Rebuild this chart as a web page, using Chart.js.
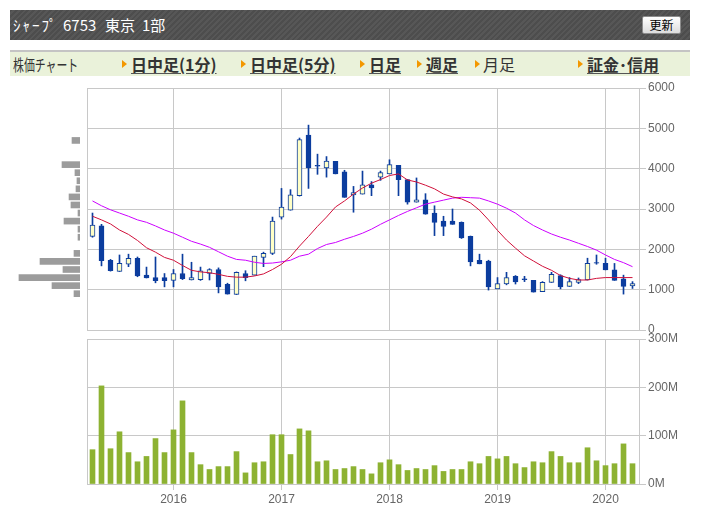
<!DOCTYPE html>
<html lang="ja">
<head>
<meta charset="utf-8">
<title>シャープ 6753 月足</title>
<script src="https://cdn.jsdelivr.net/npm/chart.js@4.4.1/dist/chart.umd.min.js"></script>
<style>
    body { margin: 0; width: 703px; height: 527px; position: relative; overflow: hidden; background: #fff; font-family: "Noto Sans CJK JP", sans-serif; }
    canvas { position: absolute; }
    .head { position: absolute; left: 10px; top: 10px; width: 680px; height: 30px;
        background: repeating-linear-gradient(135deg, #4d4d4d 0px, #4d4d4d 2px, #575757 2px, #575757 4px); }
    .head span { position: absolute; top: 0; line-height: 30px; color: #fff; font-size: 15px; white-space: nowrap; }
    .head .btn { position: absolute; left: 632px; top: 6px; width: 37px; height: 16px; border: 1px solid #8c8c8c; border-radius: 2px;
        background: linear-gradient(#ffffff, #dcdcdc); font-size: 12px; line-height: 16px; text-align: center; color: #000; }
    .nav { position: absolute; left: 10px; top: 50px; width: 680px; height: 24px; border-top: 2px solid #c4c4c4; background: #eaf2da; }
    .nav span { position: absolute; top: 0; line-height: 24px; font-size: 16px; color: #333; white-space: nowrap; }
    .nav .label { transform: scaleX(0.68); transform-origin: left center; }
    .nav .link { font-weight: bold; text-decoration: underline; text-decoration-color: #555; text-underline-offset: 2px; }
    .nav i { position: absolute; top: 8px; width: 0; height: 0; border-left: 5px solid #f39800; border-top: 4px solid transparent; border-bottom: 4px solid transparent; }
</style>
</head>
<body>
<div class="head">
    <span style="left:3px;letter-spacing:2px">ｼｬｰﾌﾟ</span>
    <span style="left:53px">6753</span>
    <span style="left:95px">東京</span>
    <span style="left:132px">1部</span>
    <div class="btn">更新</div>
</div>
<div class="nav">
    <span class="label" style="left:3px">株価チャート</span>
    <i style="left:112px"></i><span class="link" style="left:121px">日中足(1分)</span>
    <i style="left:231px"></i><span class="link" style="left:240px">日中足(5分)</span>
    <i style="left:350px"></i><span class="link" style="left:359px">日足</span>
    <i style="left:407px"></i><span class="link" style="left:416px">週足</span>
    <i style="left:465px"></i><span style="left:473px">月足</span>
    <i style="left:568px"></i><span class="link" style="left:577px">証金･信用</span>
</div>

<canvas id="profileChart" width="87" height="262" style="left:0;top:80px"></canvas>
<canvas id="priceChart" width="623" height="262" style="left:80px;top:80px"></canvas>
<canvas id="volumeChart" width="623" height="180" style="left:80px;top:328px"></canvas>

<script>
// monthly bars, 2015-04 .. 2020-04
var months = ['2015-04','2015-05','2015-06','2015-07','2015-08','2015-09','2015-10','2015-11','2015-12',
    '2016-01','2016-02','2016-03','2016-04','2016-05','2016-06','2016-07','2016-08','2016-09','2016-10','2016-11','2016-12',
    '2017-01','2017-02','2017-03','2017-04','2017-05','2017-06','2017-07','2017-08','2017-09','2017-10','2017-11','2017-12',
    '2018-01','2018-02','2018-03','2018-04','2018-05','2018-06','2018-07','2018-08','2018-09','2018-10','2018-11','2018-12',
    '2019-01','2019-02','2019-03','2019-04','2019-05','2019-06','2019-07','2019-08','2019-09','2019-10','2019-11','2019-12',
    '2020-01','2020-02','2020-03','2020-04'];

var opens = [2320,2580,1730,1450,1630,1780,1360,1300,1300,1230,1400,1240,1250,1400,1500,1130,880,1400,1360,1800,1900,
    2800,2970,3330,4830,4080,4020,4180,3920,3350,3370,3600,3790,3870,4080,3730,3170,3230,2900,2700,2700,
    2670,2320,1730,1710,1020,1140,1330,1270,1230,950,1180,1350,1080,1180,1240,1670,1650,1490,1270,1090];
var highs = [2900,2620,1750,1860,1880,1810,1560,1810,1400,1500,1880,1680,1560,1520,1540,1160,1440,1470,1830,1930,2800,
    3510,3480,4760,5080,4360,4300,4180,3960,3560,3940,3680,3940,4220,4080,3730,3770,3380,3080,2820,3000,
    2680,2330,1880,1730,1300,1430,1350,1330,1230,1200,1430,1370,1300,1290,1780,1860,1780,1650,1360,1200];
var lows = [2300,1590,1460,1450,1570,1320,1290,1170,1070,1070,1250,1240,1230,1240,920,890,880,1220,1360,1570,1870,
    2750,2970,3320,3510,3860,3790,3870,3290,2920,3370,3330,3710,3870,3330,3120,3170,2870,2340,2340,2620,
    2270,1590,1640,990,1020,1120,1140,1200,940,950,1180,1020,1080,1150,1240,1630,1490,1230,890,1030];
var closes = [2600,1720,1470,1650,1780,1340,1290,1220,1220,1400,1270,1300,1470,1500,1070,890,1430,1300,1830,1900,2700,
    3050,3350,4720,4020,4060,4190,3870,3290,3410,3600,3520,3900,4100,3730,3170,3230,2870,2670,2570,2620,
    2280,1690,1640,1070,1150,1300,1190,1250,940,1180,1380,1070,1200,1250,1650,1660,1490,1230,1080,1150];

// moving averages as drawn (red = short, magenta = long)
var maShort = [2820,2730,2630,2480,2370,2220,2040,1930,1800,1730,1600,1480,1440,1420,1380,1330,1310,1310,1340,1390,1500,
    1630,1820,2080,2320,2570,2800,3050,3200,3370,3520,3640,3730,3830,3870,3720,3670,3590,3500,3370,3300,
    3250,3150,2970,2730,2470,2230,2030,1840,1710,1580,1480,1350,1280,1240,1240,1280,1300,1300,1300,1300];
var maLong = [3200,3080,2980,2900,2820,2730,2670,2580,2480,2400,2300,2200,2130,2050,1940,1830,1750,1730,1680,1650,1660,
    1690,1730,1830,1880,2020,2120,2170,2250,2320,2400,2500,2620,2730,2840,2940,3030,3120,3170,3220,3270,
    3290,3280,3270,3200,3120,3020,2900,2730,2590,2480,2380,2300,2230,2150,2070,1980,1860,1750,1670,1570];

// volume, millions of shares
var volumes = [71,203,73,108,65,46,57,94,65,112,172,65,40,30,36,36,67,23,44,46,102,
    102,61,114,110,46,48,30,32,36,30,21,44,50,40,28,32,30,38,26,30,
    30,46,42,57,52,57,42,34,46,44,67,57,44,44,75,48,38,42,83,42];

// volume by price (left side), millions of shares per 200 yen band
var profilePrices = [900,1100,1300,1500,1700,1900,2300,2500,2700,2900,3100,3300,3500,3700,3900,4100,4700];
var profileVolumes = [93,434,946,264,620,93,31,31,248,31,140,170,62,47,78,279,124];

var yearLabels = ['2016','2017','2018','2019','2020'];
var yearTickIndex = [9,21,33,45,57];

var gridColor = '#c8c8c8';
var tickColor = '#666666';
var candleBlue = '#0c3d9e';
var candleYellow = '#ffffc6';
var tickFont = { family: 'Liberation Sans', size: 12 };

function xyPoints(values) {
    var out = [];
    for (var i = 0; i < values.length; i++) out.push({ x: i, y: values[i] });
    return out;
}

function rangePoints(a, b) {
    var out = [];
    for (var i = 0; i < a.length; i++) out.push({ x: i, y: [a[i], b[i]] });
    return out;
}

function yearAxis(showLabels) {
    return {
        type: 'linear', min: -0.611, max: 60.722, offset: false,
        afterBuildTicks: function (scale) {
            scale.ticks = yearTickIndex.map(function (v) { return { value: v }; });
        },
        afterFit: function (scale) {
            scale.height = showLabels ? 24 : 0;
            scale.paddingLeft = 0; scale.paddingRight = 0;
        },
        ticks: {
            display: showLabels, color: tickColor, font: tickFont, padding: 2, maxRotation: 0, autoSkip: false,
            callback: function (value) {
                var k = yearTickIndex.indexOf(value);
                return k >= 0 ? yearLabels[k] : '';
            }
        },
        grid: { color: gridColor, offset: false, drawTicks: showLabels, tickLength: 6 },
        border: { color: gridColor }
    };
}

function rightAxis(min, max, step, suffix) {
    return {
        type: 'linear', position: 'right', min: min, max: max,
        afterFit: function (scale) {
            scale.width = 64;
            scale.paddingTop = 0; scale.paddingBottom = 0;
        },
        ticks: {
            stepSize: step, color: tickColor, font: tickFont, padding: 2,
            callback: function (value) { return value + suffix; }
        },
        grid: { color: gridColor, tickLength: 7 },
        border: { color: gridColor }
    };
}

function leftBorderAxis() {
    return {
        type: 'linear', position: 'left', min: 0, max: 1,
        afterFit: function (scale) { scale.width = 0; },
        ticks: { display: false },
        grid: { display: false, drawTicks: false },
        border: { display: true, color: gridColor }
    };
}

var commonOptions = {
    responsive: false,
    animation: false,
    events: [],
    plugins: { legend: { display: false }, tooltip: { enabled: false } }
};

// price panel
new Chart(document.getElementById('priceChart'), {
    type: 'bar',
    data: {
        datasets: [
            { type: 'line', data: xyPoints(maShort), borderColor: '#d0103a', borderWidth: 1, pointRadius: 0, order: 0 },
            { type: 'line', data: xyPoints(maLong), borderColor: '#cc00ff', borderWidth: 1, pointRadius: 0, order: 0 },
            {
                data: rangePoints(opens, closes), barThickness: 5, grouped: false, order: 1,
                backgroundColor: opens.map(function (o, i) { return closes[i] >= o ? candleYellow : candleBlue; }),
                borderColor: candleBlue, borderWidth: 1, borderSkipped: false
            },
            { data: rangePoints(lows, highs), barThickness: 1, grouped: false, order: 2, backgroundColor: candleBlue, borderWidth: 0 }
        ]
    },
    options: Object.assign({}, commonOptions, {
        layout: { padding: { left: 7, top: 8, bottom: 12, right: 0 } },
        scales: {
            x: yearAxis(false),
            y: rightAxis(0, 6000, 1000, ''),
            yl: leftBorderAxis()
        }
    })
});

// volume panel
new Chart(document.getElementById('volumeChart'), {
    type: 'bar',
    data: {
        datasets: [
            { data: xyPoints(volumes), barThickness: 5, backgroundColor: '#8db232', borderWidth: 0 }
        ]
    },
    options: Object.assign({}, commonOptions, {
        layout: { padding: { left: 7, top: 11, bottom: 0, right: 0 } },
        scales: {
            x: yearAxis(true),
            y: rightAxis(0, 300, 100, 'M'),
            yl: leftBorderAxis()
        }
    })
});

// volume by price, bars growing to the left
new Chart(document.getElementById('profileChart'), {
    type: 'bar',
    data: {
        datasets: [{
            data: profilePrices.map(function (p, i) { return { x: profileVolumes[i], y: p }; }),
            barThickness: 6, backgroundColor: '#9c9c9c', borderWidth: 0
        }]
    },
    options: Object.assign({}, commonOptions, {
        indexAxis: 'y',
        layout: { padding: { left: 0, top: 8, bottom: 12, right: 7 } },
        scales: {
            x: { type: 'linear', reverse: true, min: 0, max: 1240, display: false },
            y: { type: 'linear', min: 0, max: 6000, display: false, offset: false, grid: { offset: false } }
        }
    })
});
</script>
</body>
</html>
